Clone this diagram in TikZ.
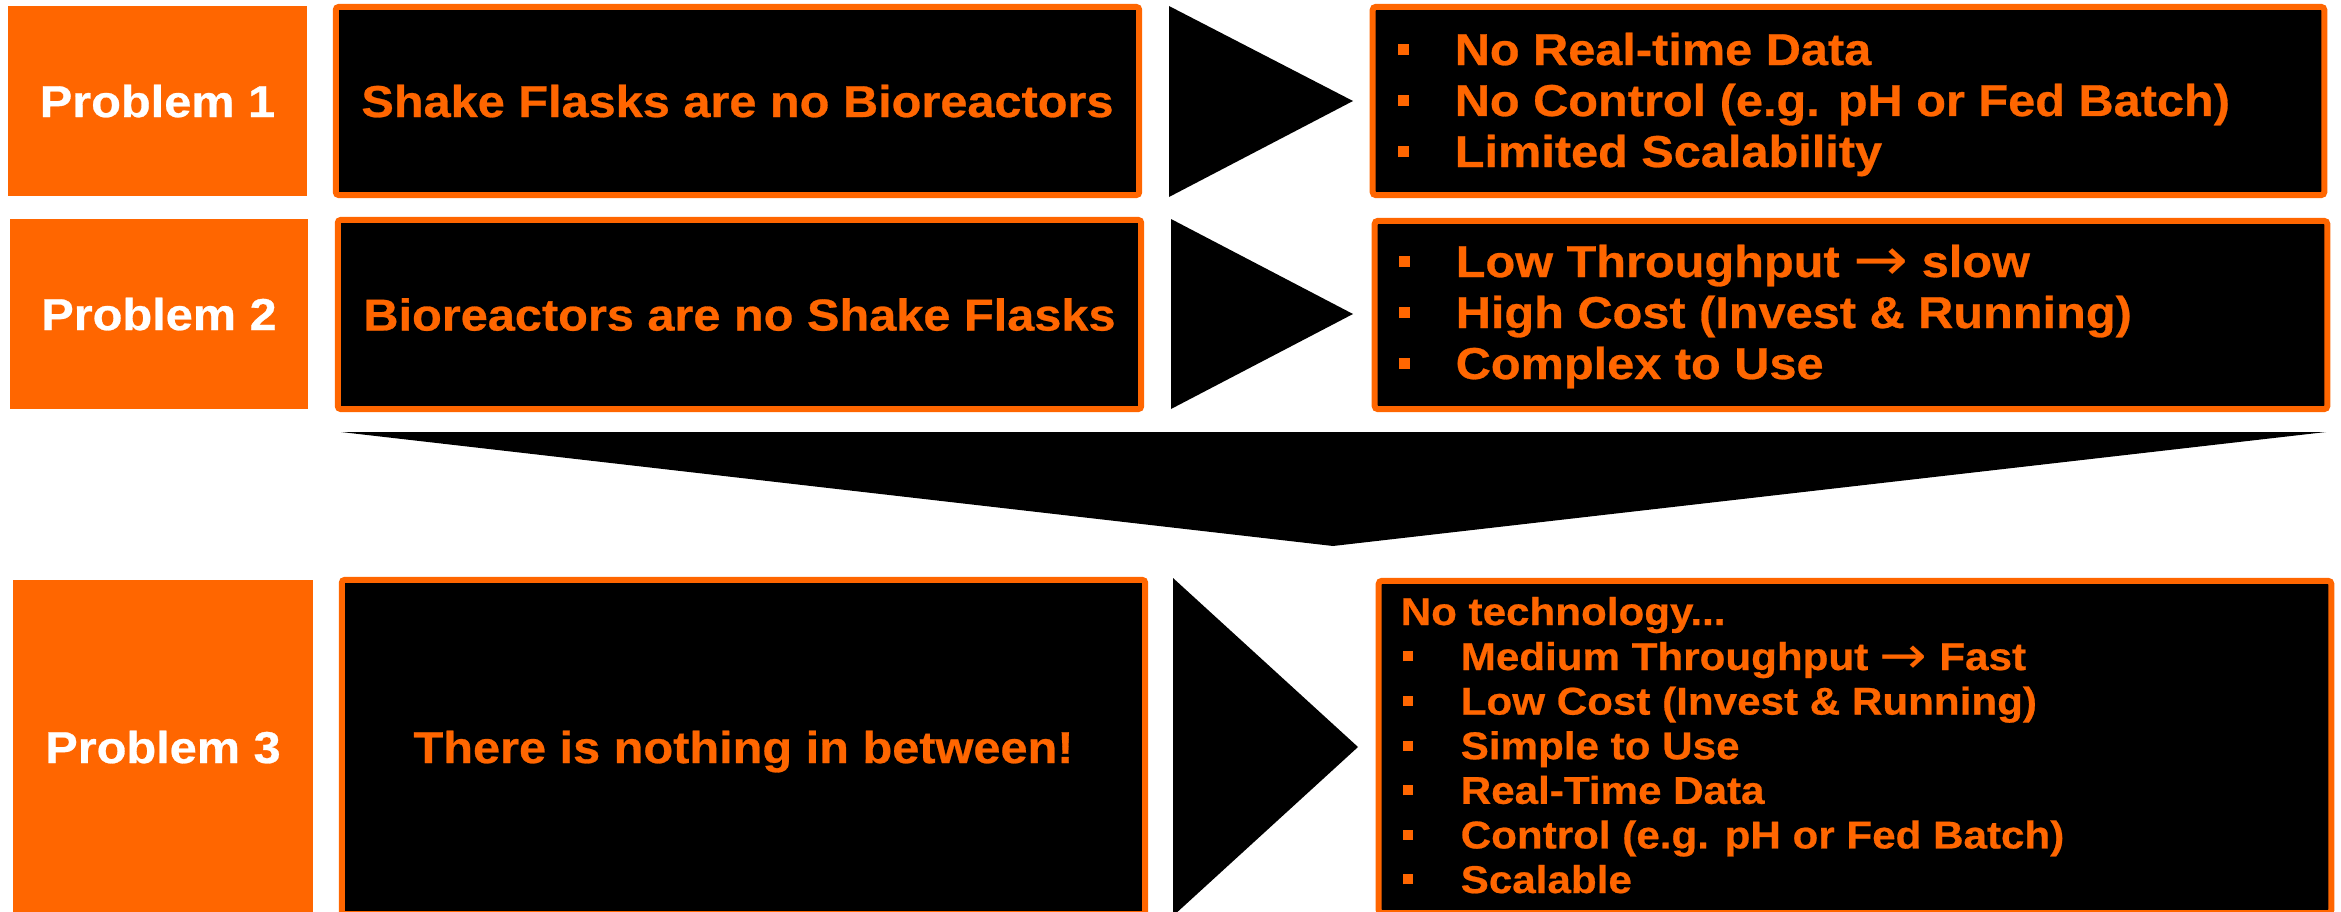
\documentclass[tikz,border=0pt]{standalone}
\usepackage{fontspec}
\setmainfont{Liberation Sans}[FakeStretch=1.09, BoldFeatures={FakeBold=0.6}]
\newfontfamily\arrowfont{DejaVu Sans}[FakeStretch=1.09]
\usetikzlibrary{positioning}
\definecolor{flaskorange}{HTML}{FF6600}
\newcommand{\bigfont}{\fontsize{12.7}{14.5}\selectfont\bfseries}
\newcommand{\smallfont}{\fontsize{11.0}{12.7}\selectfont\bfseries}
\newcommand{\sqbul}{\rule[0.22em]{0.26em}{0.26em}}
\newcommand{\itm}[2][0.57cm]{\makebox[#1][l]{\sqbul}#2}
\newcommand{\goes}{\raisebox{-0.08em}{\scalebox{1.35}{\arrowfont\mdseries →}}}

\begin{document}
\begin{tikzpicture}[x=0.01cm, y=-0.01cm, font=\bigfont,
  probbox/.style={fill=flaskorange, text=white, inner sep=0pt, text height=0.32cm, text depth=0pt},
  darkbox/.style={fill=black, draw=flaskorange, line width=0.6mm, rounded corners=0.3mm,
    inner sep=0pt, text=flaskorange, text height=0.32cm, text depth=0pt},
  chevron/.style={fill=black},
  item/.style={anchor=base west, inner sep=0pt, text=flaskorange}]
\useasboundingbox (0,0) rectangle (2341,912);
\clip (0,0) rectangle (2341,912);
% row 1: shake flasks
\node[probbox, minimum width=2.99cm, minimum height=1.90cm] (p1) at (157.5,101) {Problem 1};
\node[darkbox, minimum width=8.03cm, minimum height=1.88cm] (s1) at (737.5,101) {Shake Flasks are no Bioreactors};
\fill[chevron] (1169,6) -- (1353,101) -- (1169,197) -- cycle;
\node[darkbox, minimum width=9.51cm, minimum height=1.88cm] (l1) at (1848.5,101) {};
\foreach \t [count=\i from 0] in {No Real-time Data, No Control (e.g. pH or Fed Batch), Limited Scalability}
  \node[item] (l1-\i) at (1397,{65+51*\i}) {\itm{\t}};
% row 2: bioreactors
\node[probbox, minimum width=2.98cm, minimum height=1.90cm] (p2) at (159,314) {Problem 2};
\node[darkbox, minimum width=8.03cm, minimum height=1.89cm] (s2) at (739.5,314.5) {Bioreactors are no Shake Flasks};
\fill[chevron] (1171,219) -- (1353,314) -- (1171,409) -- cycle;
\node[darkbox, minimum width=9.52cm, minimum height=1.88cm] (l2) at (1851,315) {};
\foreach \t [count=\i from 0] in {Low Throughput \goes{} slow, High Cost (Invest \& Running), Complex to Use}
  \node[item] (l2-\i) at (1398,{277+51*\i}) {\itm{\t}};
% both lead down to the gap
\fill[chevron] (341,432) -- (2326,432) -- (1333,546) -- cycle;
% row 3: the gap in between
\node[probbox, minimum width=3.00cm, minimum height=3.34cm] (p3) at (163,747) {Problem 3};
\node[darkbox, minimum width=8.03cm, minimum height=3.34cm] (s3) at (743.5,747) {There is nothing in between!};
\fill[chevron] (1173,578) -- (1358,747) -- (1173,916) -- cycle;
\node[darkbox, minimum width=9.52cm, minimum height=3.32cm] (l3) at (1855,747) {};
\node[item, font=\smallfont] (l3-head) at (1400,625) {No technology...};
\foreach \t [count=\i from 0] in {Medium Throughput \goes{} Fast, Low Cost (Invest \& Running), Simple to Use,
    Real-Time Data, Control (e.g. pH or Fed Batch), Scalable}
  \node[item, font=\smallfont] (l3-\i) at (1402,{670+44.6*\i}) {\itm[0.58cm]{\t}};
\end{tikzpicture}
\end{document}
